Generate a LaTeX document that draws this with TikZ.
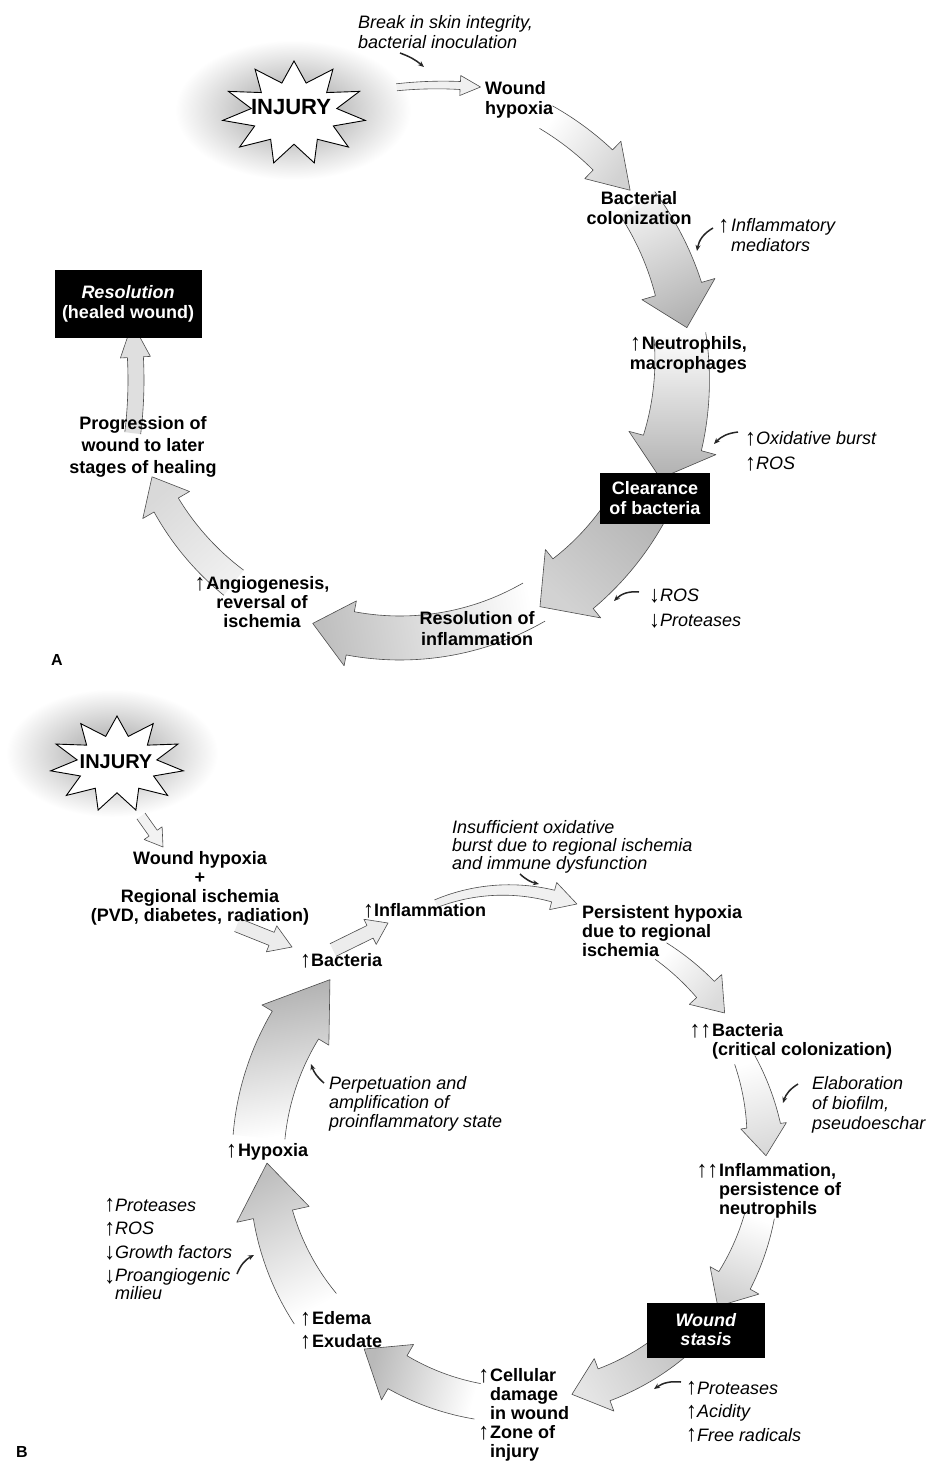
\documentclass[tikz,border=0pt]{standalone}
\usepackage{fontspec}
\usepackage{graphicx}
\setmainfont{Liberation Sans}
\newfontfamily\arrowfont{Liberation Sans}
\usetikzlibrary{calc,arrows.meta}
\newcommand\up{\raisebox{-0.5pt}{\scalebox{1.2}[1.3]{\arrowfont\bfseries\upshape ↑}}}
\newcommand\dn{\raisebox{-1.5pt}{\scalebox{1.2}[1.3]{\arrowfont\bfseries\upshape ↓}}}
\tikzset{
  lbl/.style={font=\bfseries\fontsize{18}{20}\selectfont, inner sep=0pt, align=left},
  note/.style={font=\itshape\fontsize{18}{20}\selectfont, inner sep=0pt, align=left},
  blk/.style={fill=black, text=white, font=\bfseries\fontsize{18}{20}\selectfont, inner sep=0pt, align=center},
  ptr/.style={-{Stealth[length=6pt,width=5pt]}, line width=1.5pt, black!85},
  outl/.style={draw=black!70, line width=0.6pt, line join=round},
  injfont/.style={font=\bfseries\fontsize{#1}{#1}\selectfont, inner sep=0pt},
}
% curved fat arrow along a circle: style, center, radius, tail angle, head-base angle, tip angle, tail half width, shaft half width at head, head half width
\newcommand\fatarrow[9]{%
 \begin{scope}[shift={(#2)}]
 \def\faP{plot[domain=#4:#5,samples=30,variable=\t]({(#3+#7+(#8-#7)*(\t-(#4))/((#5)-(#4)))*cos(\t)},{(#3+#7+(#8-#7)*(\t-(#4))/((#5)-(#4)))*sin(\t)}) -- ({(#3+#9)*cos(#5)},{(#3+#9)*sin(#5)}) -- ({(#3)*cos(#6)},{(#3)*sin(#6)}) -- ({(#3-#9)*cos(#5)},{(#3-#9)*sin(#5)}) -- plot[domain=#5:#4,samples=30,variable=\t]({(#3-#7-(#8-#7)*(\t-(#4))/((#5)-(#4)))*cos(\t)},{(#3-#7-(#8-#7)*(\t-(#4))/((#5)-(#4)))*sin(\t)})}%
 \path[#1] \faP -- cycle;
 \draw[outl] \faP;
 \end{scope}}
% straight hollow arrow: style, tail, tip, half width, head half width, head length
\newcommand\straightarrow[6]{%
 \coordinate (sA) at (#2); \coordinate (sH) at (#3);
 \coordinate (sB) at ($(sH)!#6pt!(sA)$);
 \def\saP{($(sA)!#4pt!90:(sH)$) -- ($(sB)!#4pt!90:(sH)$) -- ($(sB)!#5pt!90:(sH)$) -- (sH) -- ($(sB)!#5pt!-90:(sH)$) -- ($(sB)!#4pt!-90:(sH)$) -- ($(sA)!#4pt!-90:(sH)$)}%
 \path[#1] \saP -- cycle;
 \draw[outl] \saP;}
\begin{document}
\begin{tikzpicture}[x=1pt,y=1pt]
\useasboundingbox (0,0) rectangle (932,-1463);
\fill[white] (0,0) rectangle (932,-1463);

% ---------------- Panel A ----------------
\shade[inner color=gray!80, outer color=white] (293,-110) ellipse [x radius=118, y radius=70];
\draw[fill=white, line width=0.9pt, line join=miter] plot[samples at={0,...,21}, variable=\i] ({294 + (1-0.4*mod(\i,2))*72*cos(90+\i*360/22)}, {-113 + (1-0.4*mod(\i,2))*52*sin(90+\i*360/22)}) -- cycle;

\fatarrow{top color=gray!12, bottom color=gray!30, shading angle=-138}{400,-370}{270}{-128}{-150}{-156.7}{16}{14}{27}
\fatarrow{top color=white, bottom color=gray!50, shading angle=-80}{400,-370}{268}{-60}{-100.7}{-109}{22}{22}{33}
\fatarrow{top color=gray!58, bottom color=gray!35, shading angle=-42}{400,-370}{275}{-30}{-51}{-59.4}{30}{32}{44}
\fatarrow{top color=white, bottom color=gray!62}{400,-370}{282}{7}{-15}{-22.6}{26}{30}{45}
\fatarrow{top color=gray!10, bottom color=gray!60, shading angle=25}{400,-370}{290}{35}{16.2}{8.4}{21}{24}{38}
\fatarrow{top color=white, bottom color=gray!35, shading angle=53}{400,-370}{292}{60}{46}{38}{13}{14}{26}
\fatarrow{fill=gray!12}{440,-500}{415}{96}{87.2}{84.4}{3.5}{4}{10}
\fatarrow{fill=gray!25}{-300,-380}{436}{-7}{3}{7.5}{8}{8}{15}

\node[injfont=22] (injA) at (291,-107) {INJURY};
\node[note, anchor=north west] (brk) at (358,-15.5) {Break in skin integrity,\\bacterial inoculation};
\node[lbl, anchor=north west] (wh) at (485,-81.5) {Wound\\hypoxia};
\node[lbl, align=center, anchor=north] (bc) at (639,-191.5) {Bacterial\\colonization};
\node[note, anchor=north west] (im) at (731,-218.5) {\llap{\up\kern2pt}Inflammatory\\mediators};
\node[lbl, align=right, anchor=north east] (neu) at (747,-336.5) {\up\kern1pt Neutrophils,\\macrophages};
\node[note, anchor=north west] (ox) at (745,-431.5) {\up Oxidative burst\\[5pt]\up ROS};
\node[blk, minimum width=110, minimum height=51] (clr) at (655,-498) {Clearance\\of bacteria};
\node[note, anchor=north west] (ros) at (649,-588.5) {\dn ROS\\[5pt]\dn Proteases};
\node[lbl, align=center, anchor=north] (resinf) at (477,-611.5) {Resolution of\\[1pt]inflammation};
\node[lbl, align=center, anchor=north] (ang) at (262,-576.5) {\up\kern1pt Angiogenesis,\\[-1pt]reversal of\\[-1pt]ischemia};
\node[lbl, align=center, anchor=north] (prog) at (143,-416.5) {Progression of\\[2pt]wound to later\\[2pt]stages of healing};
\node[blk, minimum width=147, minimum height=68] (resbox) at (128,-304) {\textit{Resolution}\\(healed wound)};
\node[injfont=16] (labA) at (57,-660) {A};

\coordinate (p1s) at (400,-53); \coordinate (p1e) at (424,-67);
\coordinate (p2s) at (713,-228); \coordinate (p2e) at (697,-251);
\coordinate (p3s) at (738,-432); \coordinate (p3e) at (714,-444);
\coordinate (p4s) at (639,-592); \coordinate (p4e) at (614,-601);
\draw[ptr] (p1s) to[bend left=10] (p1e);
\draw[ptr] (p2s) to[bend right=25] (p2e);
\draw[ptr] (p3s) to[bend right=20] (p3e);
\draw[ptr] (p4s) to[bend right=25] (p4e);

% ---------------- Panel B ----------------
\shade[inner color=gray!75, outer color=white] (112,-753) ellipse [x radius=106, y radius=64];
\draw[fill=white, line width=0.9pt, line join=miter] plot[samples at={0,...,21}, variable=\i] ({117 + (1-0.4*mod(\i,2))*67*cos(90+\i*360/22)}, {-764 + (1-0.4*mod(\i,2))*48*sin(90+\i*360/22)}) -- cycle;

\straightarrow{fill=gray!10}{141,-816}{163,-847}{5}{11}{17}
\straightarrow{fill=gray!15}{237,-925}{292,-947}{7}{14}{22}
\straightarrow{fill=gray!15}{333,-950}{388,-923}{7}{14}{20}
\fatarrow{fill=gray!12}{506,-1077}{187}{112}{75.4}{67.7}{4}{6}{14}
\fatarrow{top color=white, bottom color=gray!62, shading angle=-170}{520,-1160}{262}{175}{149}{136.5}{26}{27}{39}
\fatarrow{top color=white, bottom color=gray!50, shading angle=-154}{520,-1160}{253}{-144}{-167.6}{-179.3}{26}{20}{37}
\fatarrow{top color=white, bottom color=gray!55, shading angle=-105}{520,-1160}{245}{-100}{-120}{-129.5}{18}{19}{32}
\fatarrow{top color=gray!45, bottom color=gray!20, shading angle=-59}{520,-1160}{240}{-50}{-69.5}{-77.5}{17}{17}{28}
\fatarrow{top color=white, bottom color=gray!38, shading angle=-19}{520,-1160}{246}{-13}{-29.3}{-36.5}{15}{18}{28}
\fatarrow{top color=white, bottom color=gray!30, shading angle=15}{520,-1160}{246}{24}{8}{1}{11}{17}{23}
\fatarrow{top color=white, bottom color=gray!28, shading angle=48}{520,-1160}{252}{56}{42.6}{35.7}{10}{12}{22}

\node[injfont=20] (injB) at (116,-762) {INJURY};
\node[lbl, align=center, anchor=north] (whB) at (200,-851.5) {Wound hypoxia\\[-1pt]+\\[-1pt]Regional ischemia\\[-1pt](PVD, diabetes, radiation)};
\node[lbl, anchor=north west] (bacB) at (300,-953.5) {\up Bacteria};
\node[lbl, anchor=north west] (inflB) at (363,-903.5) {\up Inflammation};
\node[note, anchor=north west] (insuf) at (452,-820.5) {Insufficient oxidative\\[-2pt]burst due to regional ischemia\\[-2pt]and immune dysfunction};
\node[lbl, anchor=north west] (pers) at (582,-905.5) {Persistent hypoxia\\[-1pt]due to regional\\[-1pt]ischemia};
\node[lbl, anchor=north west] (bac2) at (712,-1023.5) {\llap{\up\up\kern1pt}Bacteria\\[-1pt](critical colonization)};
\node[note, anchor=north west] (elab) at (812,-1076.5) {Elaboration\\of biofilm,\\pseudoeschar};
\node[lbl, anchor=north west] (infl2) at (719,-1163.5) {\llap{\up\up\kern1pt}Inflammation,\\[-1pt]persistence of\\[-1pt]neutrophils};
\node[blk, minimum width=118, minimum height=55] (stasis) at (706,-1330) {\textit{Wound}\\[-1pt]\textit{stasis}};
\node[note, anchor=north west] (prot) at (686,-1381.5) {\up Proteases\\[3.5pt]\up Acidity\\[3.5pt]\up Free radicals};
\node[lbl, anchor=north west] (cell) at (490,-1368.5) {\llap{\up\kern1pt}Cellular\\[-1pt]damage\\[-1pt]in wound\\[-1pt]\llap{\up\kern1pt}Zone of\\[-1pt]injury};
\node[lbl, anchor=north west] (edema) at (300,-1311.5) {\up\kern1pt Edema\\[3pt]\up\kern1pt Exudate};
\node[lbl, anchor=north west] (hyp) at (226,-1143.5) {\up\kern1pt Hypoxia};
\node[note, anchor=north west] (prot2) at (115,-1198.5) {\llap{\up}Proteases\\[3.5pt]\llap{\up}ROS\\[3.5pt]\llap{\dn}Growth factors\\[3.5pt]\llap{\dn}Proangiogenic\\[-2pt]milieu};
\node[note, anchor=north west] (perp) at (329,-1076.5) {Perpetuation and\\[-1pt]amplification of\\[-1pt]proinflammatory state};
\node[injfont=16] (labB) at (22,-1452) {B};

\coordinate (p5s) at (520,-874); \coordinate (p5e) at (539,-884);
\coordinate (p6s) at (798,-1084); \coordinate (p6e) at (783,-1103);
\coordinate (p7s) at (681,-1382); \coordinate (p7e) at (654,-1389);
\coordinate (p8s) at (237,-1274); \coordinate (p8e) at (254,-1255);
\coordinate (p9s) at (324,-1083); \coordinate (p9e) at (311,-1064);
\draw[ptr] (p5s) to[bend right=15] (p5e);
\draw[ptr] (p6s) to[bend right=20] (p6e);
\draw[ptr] (p7s) to[bend right=20] (p7e);
\draw[ptr] (p8s) to[bend left=20] (p8e);
\draw[ptr] (p9s) to[bend left=15] (p9e);
\end{tikzpicture}
\end{document}
